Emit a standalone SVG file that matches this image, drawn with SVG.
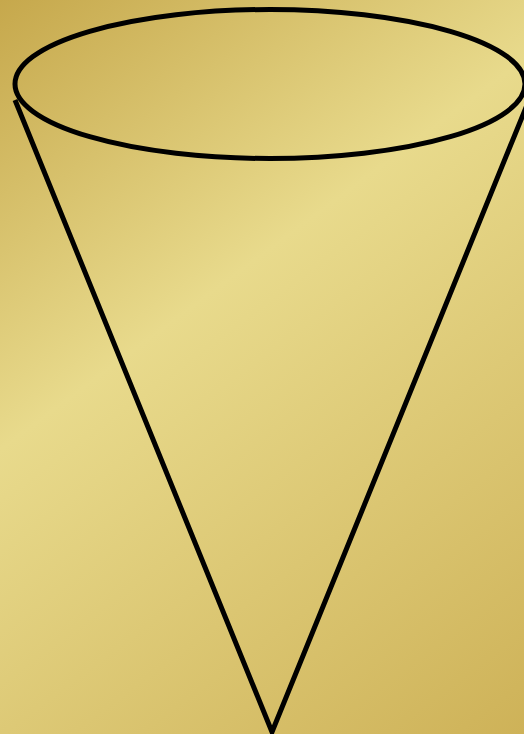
<svg xmlns="http://www.w3.org/2000/svg" width="524" height="734" viewBox="0 0 524 734">
<defs>
<linearGradient id="bg" gradientUnits="userSpaceOnUse" x1="0" y1="0" x2="538" y2="723">
<stop offset="0" stop-color="#c6a84c"/>
<stop offset="0.4" stop-color="#e8da8c"/>
<stop offset="1" stop-color="#ceb258"/>
</linearGradient>
<style>.s{fill:none;stroke:#000;stroke-width:5}</style>
</defs>
<rect width="524" height="734" fill="url(#bg)"/>
<g id="cone">
<path class="s" d="M15,100 L272,732 L529,100"/>
<ellipse class="s" cx="270" cy="84" rx="255" ry="74.5"/>
</g>
</svg>
